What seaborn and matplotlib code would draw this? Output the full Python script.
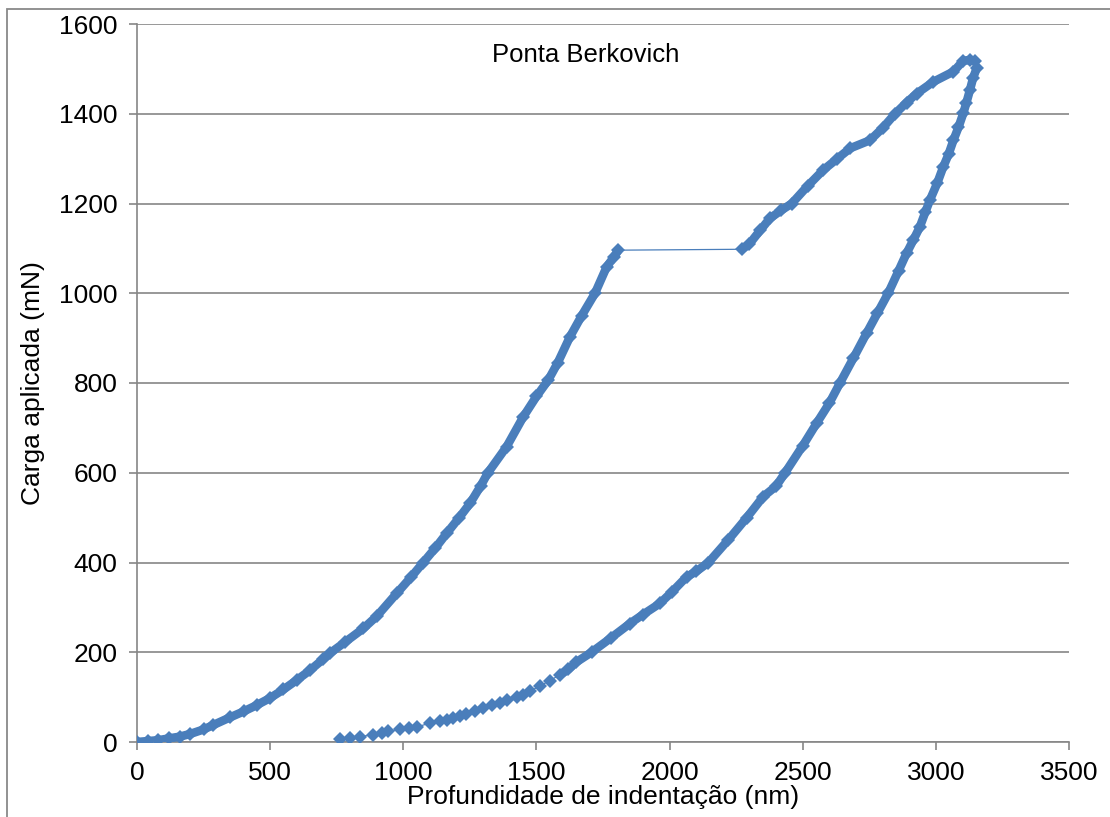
import matplotlib
matplotlib.use("Agg")
import matplotlib.pyplot as plt
import seaborn as sns
import pandas as pd
from matplotlib.patches import Rectangle

# Loading branch (dense)
load_depth = [0, 40, 80, 120, 161, 200, 250, 287, 350, 400, 449, 500, 550, 600, 650, 700, 725, 780,
              850, 900, 975, 1030, 1075, 1120, 1163, 1210, 1251, 1290, 1318, 1388, 1451, 1500, 1545,
              1580, 1626, 1670, 1720, 1764, 1790, 1808]
load_force = [0, 2, 4, 8, 12, 18, 28, 38, 55, 68, 82, 98, 117, 138, 160, 185, 198, 222,
              253, 280, 331, 368, 400, 432, 465, 500, 532, 570, 600, 658, 725, 770, 807,
              845, 903, 950, 1000, 1059, 1080, 1096]
# Re-loading branch after the jump (dense)
reload_depth = [2271, 2300, 2340, 2377, 2420, 2459, 2520, 2578, 2630, 2678, 2753, 2800, 2847, 2890,
                2928, 2990, 3066, 3103, 3130, 3147]
reload_force = [1098, 1110, 1140, 1167, 1185, 1200, 1240, 1275, 1300, 1323, 1341, 1368, 1400, 1425,
                1445, 1471, 1494, 1518, 1520, 1518]
# Unloading branch (dense part)
unload_depth = [3153, 3140, 3128, 3115, 3103, 3085, 3066, 3048, 3028, 3005, 2978, 2960, 2940, 2915,
                2890, 2860, 2821, 2780, 2740, 2690, 2640, 2600, 2552, 2500, 2434, 2400, 2352, 2290,
                2220, 2146, 2100, 2064, 2010, 1964, 1900, 1851, 1780, 1707, 1650, 1620]
unload_force = [1501, 1480, 1453, 1425, 1401, 1370, 1341, 1310, 1282, 1245, 1208, 1180, 1148, 1118,
                1089, 1050, 1000, 955, 911, 855, 800, 755, 710, 660, 600, 570, 547, 500,
                450, 400, 380, 368, 335, 309, 284, 264, 232, 200, 178, 162]
# Unloading tail (sparse markers)
tail_depth = [1589, 1551, 1513, 1476, 1451, 1426, 1388, 1363, 1332, 1301, 1269, 1235, 1213, 1188,
              1163, 1138, 1100, 1053, 1023, 988, 944, 919, 885, 837, 800, 762]
tail_force = [150, 137, 125, 113, 105, 101, 94, 88, 82, 76, 70, 62, 58, 53,
              50, 47, 42, 34, 31, 28, 24, 21, 16, 12, 9, 6]

x_ticks = [0, 500, 1000, 1500, 2000, 2500, 3000, 3500]
y_ticks = [0, 200, 400, 600, 800, 1000, 1200, 1400, 1600]

sns.set_theme(style="white")
plt.rcParams['font.family'] = ['Liberation Sans', 'DejaVu Sans']

COLOR = "#4A7EBB"
GRID = "#868686"
FS = 19

fig = plt.figure(figsize=(11.10, 8.17), dpi=100)
ax = fig.add_axes([137/1110, 1 - 742/817, (1069-137)/1110, (742-24)/817])

all_df = pd.DataFrame({
    "depth": load_depth + reload_depth + unload_depth + tail_depth,
    "force": load_force + reload_force + unload_force + tail_force,
})
dense = [(load_depth, load_force), (reload_depth, reload_force),
         (unload_depth + tail_depth[:1], unload_force + tail_force[:1])]

# thin connecting line + markers for all points
sns.lineplot(data=all_df, x="depth", y="force", sort=False, estimator=None, ax=ax,
             color=COLOR, linewidth=0.9, marker="D", markersize=7.5,
             markeredgewidth=0, zorder=3)
# dense segments appear as thick bands
for d, f in dense:
    seg = pd.DataFrame({"depth": d, "force": f})
    sns.lineplot(data=seg, x="depth", y="force", sort=False, estimator=None, ax=ax,
                 color=COLOR, linewidth=6.2, solid_capstyle="round", solid_joinstyle="round",
                 zorder=3)

ax.set_xlim(0, 3500)
ax.set_ylim(0, 1600)
ax.set_xticks(x_ticks)
ax.set_yticks(y_ticks)
ax.set_xticklabels([str(v) for v in x_ticks])
ax.set_yticklabels([str(v) for v in y_ticks])

ax.grid(axis="y", color=GRID, linewidth=1.2)
ax.grid(axis="x", visible=False)
ax.set_axisbelow(True)
for s in ["top", "right"]:
    ax.spines[s].set_visible(False)
for s in ["left", "bottom"]:
    ax.spines[s].set_color(GRID)
    ax.spines[s].set_linewidth(1.2)

ax.tick_params(axis="both", direction="out", length=6, width=1.2, color=GRID,
               labelsize=FS, labelcolor="black")
ax.tick_params(axis="y", pad=8, left=True)
ax.tick_params(axis="x", pad=8, bottom=True)

ax.set_xlabel("Profundidade de indentação (nm)", fontsize=FS, labelpad=0, color="black")
ax.set_ylabel("Carga aplicada (mN)", fontsize=FS, labelpad=10, color="black")

ax.text(0.481, 0.957, "Ponta Berkovich", transform=ax.transAxes, ha="center", va="center",
        fontsize=FS - 0.5, color="black")

# outer chart frame (Excel-style chart area border)
fig.patches.append(Rectangle((7/1110, -0.2), 2.0, 1.2 - 9/817, transform=fig.transFigure,
                             fill=False, edgecolor="#898989", linewidth=1.3, zorder=0))

fig.savefig("out.png", dpi=100)
